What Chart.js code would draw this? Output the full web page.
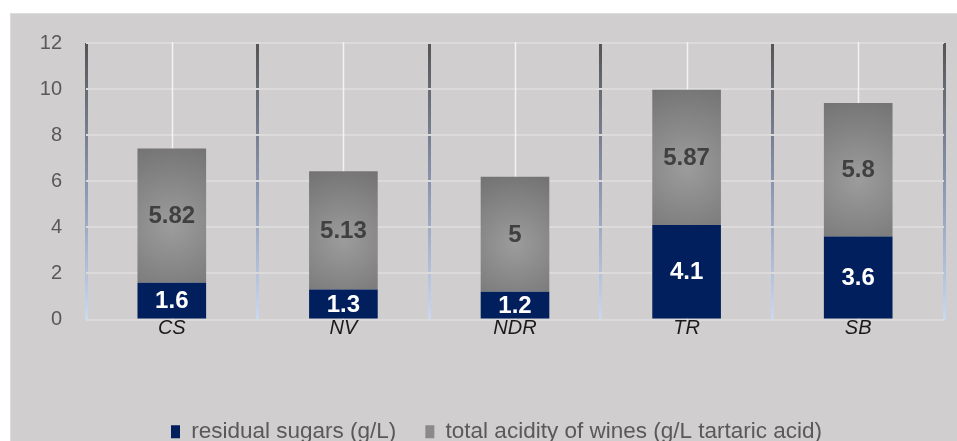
<!DOCTYPE html>
<html>
<head>
<meta charset="utf-8">
<script src="https://cdn.jsdelivr.net/npm/chart.js@4"></script>
<style>
  body { margin: 0; background: #fff; overflow: hidden; }
  #box {
    position: absolute; left: 10px; top: 13px; width: 947px; height: 428px;
    background: #d0cece; border-top: 1px solid #dcdcdc; border-left: 1px solid #dcdcdc;
    box-sizing: border-box; overflow: hidden;
  }
  #wineChart { position: absolute; left: 0; top: -7px; }
</style>
</head>
<body>
<div id="box"><canvas id="wineChart" width="946" height="446"></canvas></div>
<script>
// data
const categories = ['CS', 'NV', 'NDR', 'TR', 'SB'];
const residualSugars = [1.6, 1.3, 1.2, 4.1, 3.6];
const totalAcidity = [5.82, 5.13, 5, 5.87, 5.8];
const yMin = 0, yMax = 12, yStep = 2;

const FONT = '"Liberation Sans", Arial, sans-serif';

// gray bars: soft radial shading, lighter in the middle
function grayBar(c) {
    const chart = c.chart;
    const x = chart.scales.x, y = chart.scales.y;
    if (!x || !y || !chart.chartArea || c.dataIndex === undefined) return '#888888';
    const i = c.dataIndex;
    const cx = x.getPixelForValue(i);
    const top = y.getPixelForValue(residualSugars[i] + totalAcidity[i]);
    const bot = y.getPixelForValue(residualSugars[i]);
    const cy = (top + bot) / 2 + 10;
    const r = Math.max(bot - top, 70) * 0.62;
    const g = chart.ctx.createRadialGradient(cx, cy, 0, cx, cy, r);
    g.addColorStop(0, '#9c9c9c');
    g.addColorStop(1, '#747474');
    return g;
}

// dark -> light blue lines between categories
function boundaryColor(c) {
    const area = c.chart.chartArea;
    if (!area) return '#666';
    const g = c.chart.ctx.createLinearGradient(0, area.top, 0, area.bottom);
    g.addColorStop(0, '#555555');
    g.addColorStop(0.5, '#8894ae');
    g.addColorStop(1, '#c9d9f2');
    return g;
}

// thin white line through the middle of each category (behind bars)
const centerLines = {
    id: 'centerLines',
    beforeDatasetsDraw(chart) {
        const { ctx, chartArea, scales } = chart;
        ctx.save();
        ctx.strokeStyle = '#f3f3f3';
        ctx.lineWidth = 1.5;
        categories.forEach((_, i) => {
            const px = Math.round(scales.x.getPixelForValue(i)) + 0.5;
            ctx.beginPath();
            ctx.moveTo(px, chartArea.top - 1);
            ctx.lineTo(px, chartArea.bottom);
            ctx.stroke();
        });
        ctx.restore();
    }
};

// value labels inside the bars
const barLabels = {
    id: 'barLabels',
    afterDatasetsDraw(chart) {
        const { ctx } = chart;
        ctx.save();
        ctx.font = 'bold 24px ' + FONT;
        ctx.textAlign = 'center';
        ctx.textBaseline = 'middle';
        chart.data.datasets.forEach((ds, di) => {
            const meta = chart.getDatasetMeta(di);
            ctx.fillStyle = di === 0 ? '#ffffff' : '#404040';
            meta.data.forEach((bar, i) => {
                const mid = (bar.y + bar.base) / 2;
                ctx.fillText(String(ds.data[i]), bar.x, mid + 1);
            });
        });
        ctx.restore();
    }
};

// legend sits a little right of centre in the original
const legendShift = {
    id: 'legendShift',
    afterLayout(chart) {
        chart.legend.left += 19;
        chart.legend.right += 19;
    }
};

new Chart(document.getElementById('wineChart'), {
    type: 'bar',
    data: {
        labels: categories,
        datasets: [
            {
                label: 'residual sugars (g/L)',
                data: residualSugars,
                backgroundColor: '#001f5c',
                categoryPercentage: 1,
                barPercentage: 0.4
            },
            {
                label: 'total acidity of wines (g/L tartaric acid)',
                data: totalAcidity,
                backgroundColor: grayBar,
                categoryPercentage: 1,
                barPercentage: 0.4
            }
        ]
    },
    options: {
        responsive: false,
        animation: false,
        layout: { padding: { top: 16, right: 13, left: 0, bottom: 0 } },
        scales: {
            x: {
                stacked: true,
                grid: { offset: true, color: boundaryColor, lineWidth: 3, drawTicks: false },
                border: { display: false },
                ticks: {
                    padding: -3,
                    color: '#1a1a1a',
                    font: { family: FONT, size: 20, style: 'italic' }
                },
                afterFit: s => { s.height = 72; }
            },
            y: {
                stacked: true,
                min: yMin,
                max: yMax,
                ticks: {
                    stepSize: yStep,
                    padding: 24,
                    color: '#595959',
                    font: { family: FONT, size: 20 }
                },
                grid: { color: '#dcdada', lineWidth: 2, drawTicks: false },
                border: { display: false },
                afterFit: s => { s.width = 75; }
            }
        },
        plugins: {
            legend: {
                position: 'bottom',
                labels: {
                    boxWidth: 9,
                    boxHeight: 13,
                    padding: 29,
                    color: '#595959',
                    font: { family: FONT, size: 22.5 },
                    generateLabels: chart => chart.data.datasets.map((ds, i) => ({
                        text: ds.label,
                        fillStyle: i === 0 ? '#001f5c' : '#8a8a8a',
                        strokeStyle: 'transparent',
                        lineWidth: 0,
                        fontColor: '#595959',
                        datasetIndex: i
                    }))
                }
            },
            tooltip: { enabled: false }
        }
    },
    plugins: [centerLines, barLabels, legendShift]
});
</script>
</body>
</html>
